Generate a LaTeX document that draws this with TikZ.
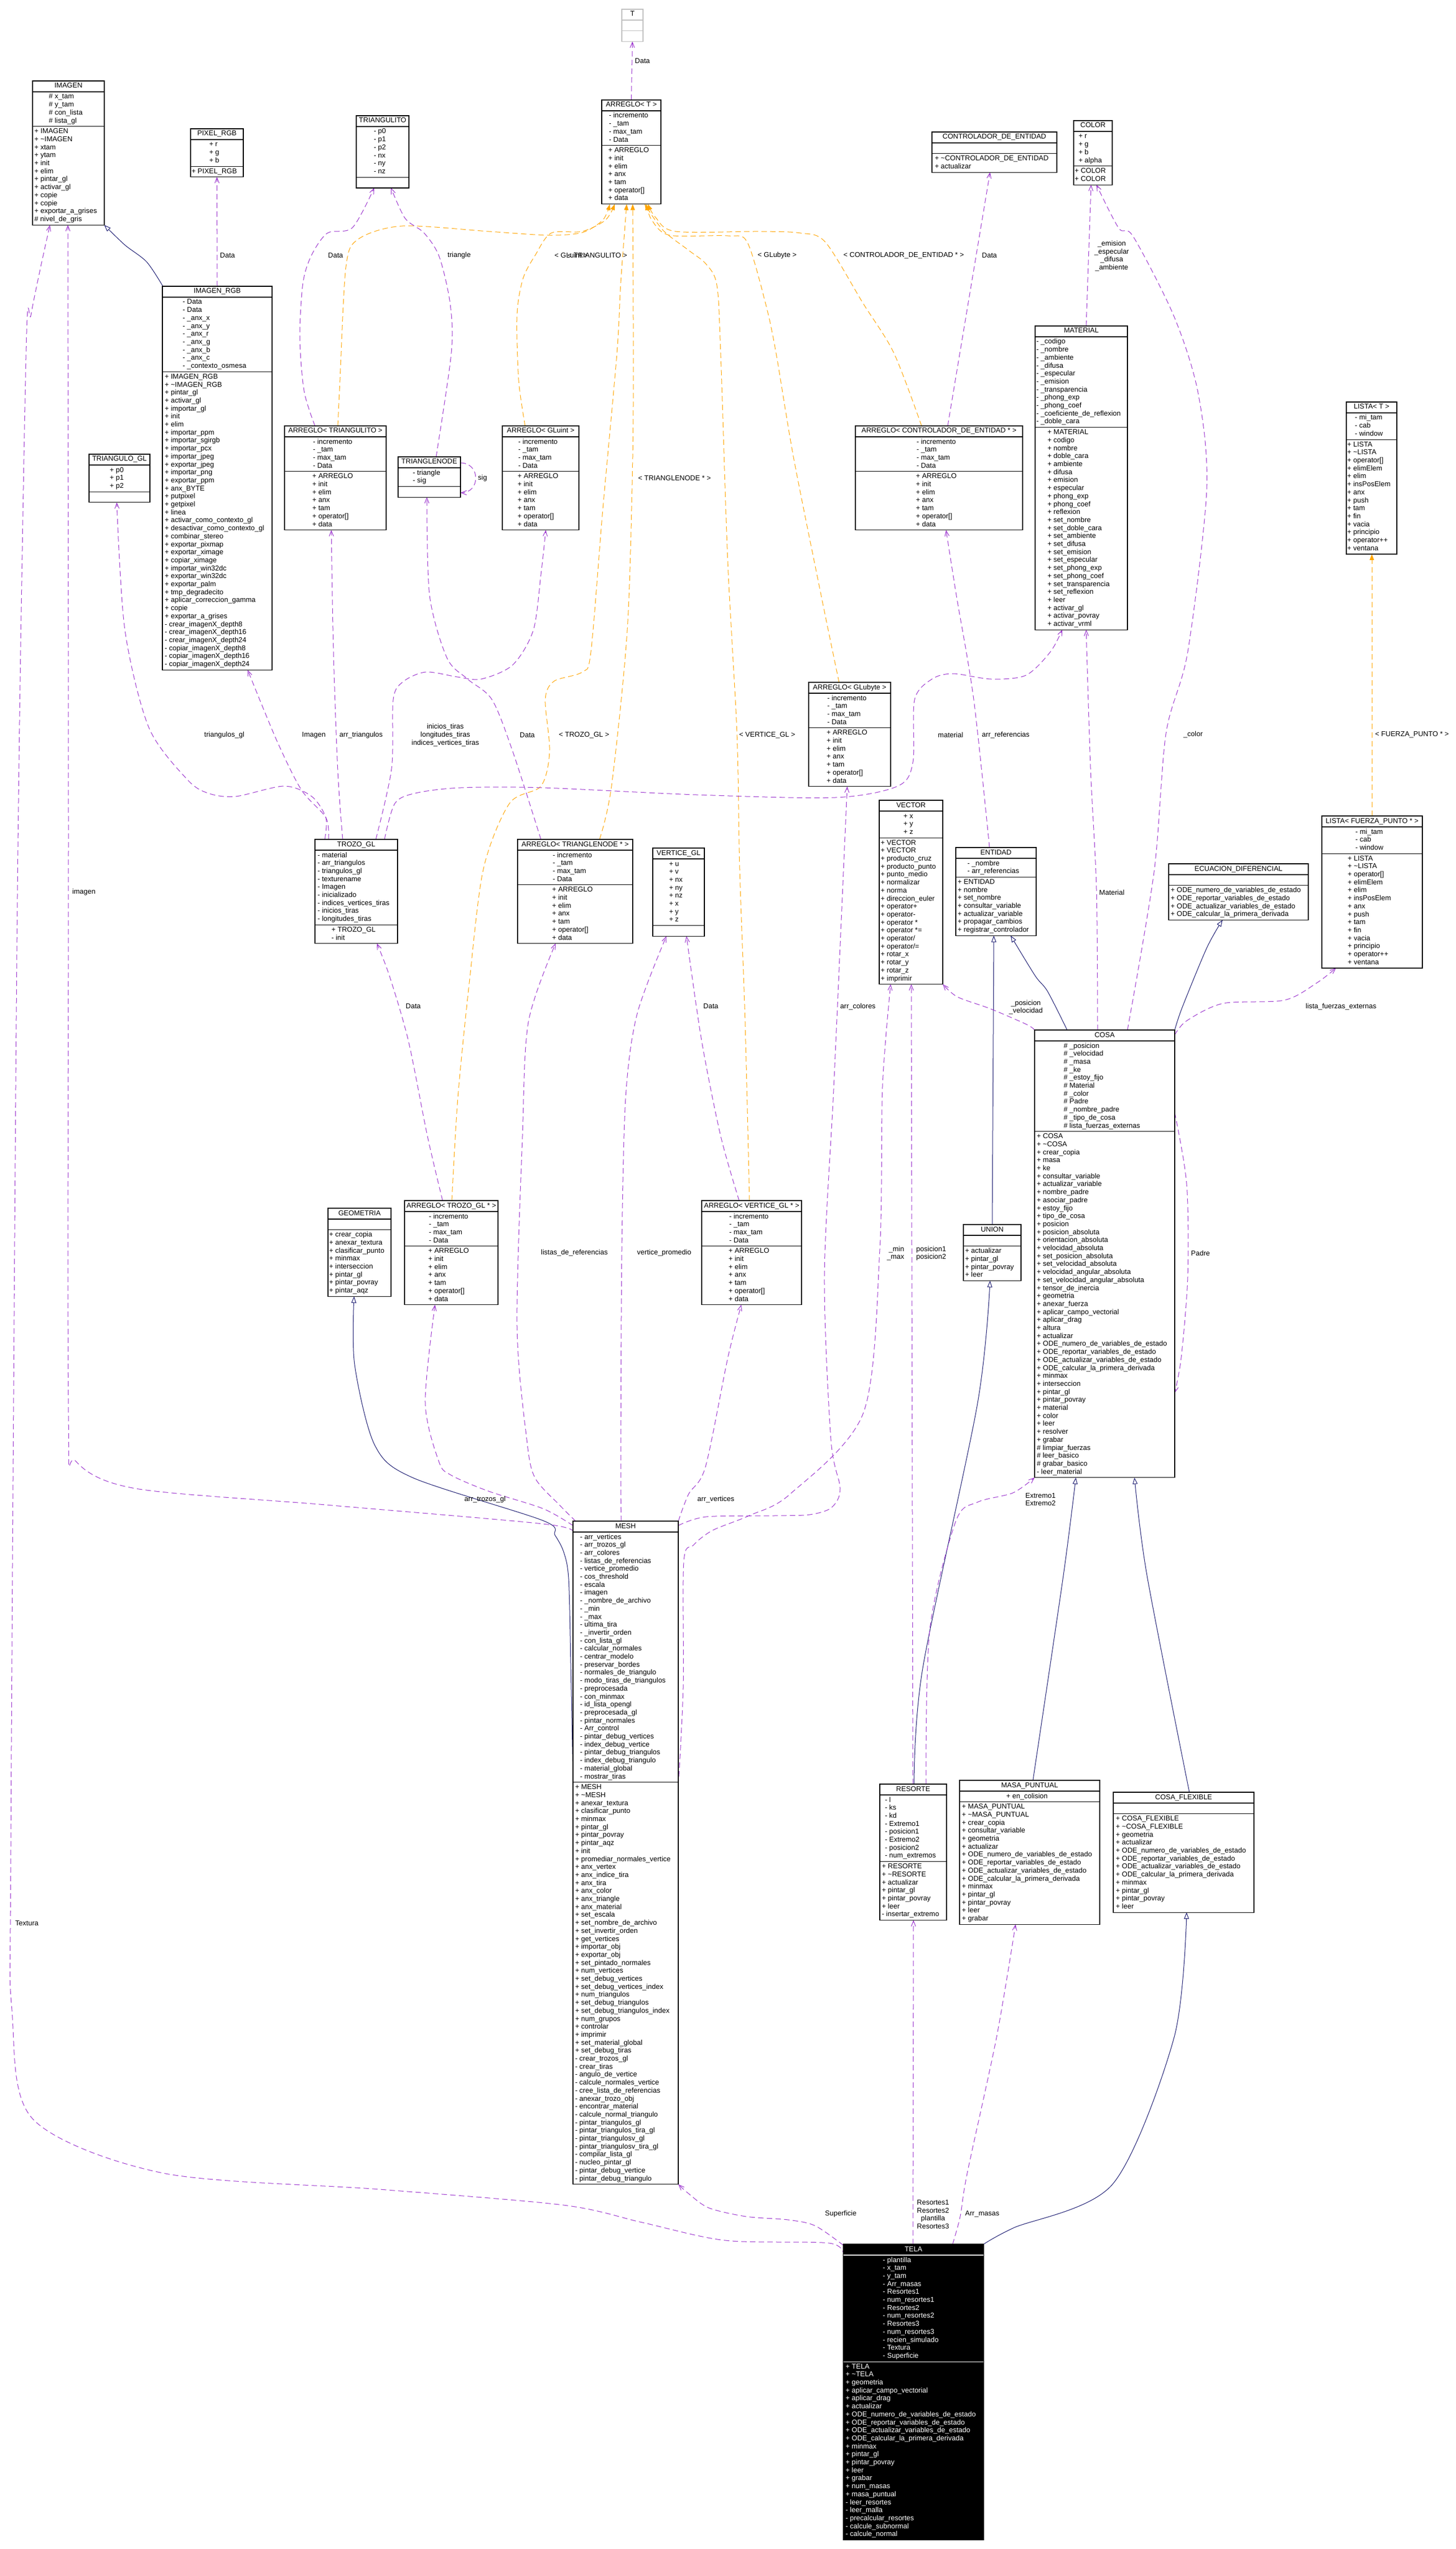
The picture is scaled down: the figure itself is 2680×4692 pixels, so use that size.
\documentclass[tikz,border=0pt]{standalone}
\usepackage{fontspec}
\setmainfont{Liberation Sans}
\usetikzlibrary{arrows.meta, calc}
\definecolor{usecol}{HTML}{9A32CD}
\definecolor{tmplcol}{HTML}{FFA500}
\definecolor{inhcol}{HTML}{191970}
\definecolor{greybox}{HTML}{BFBFBF}
\pgfdeclarelayer{back}
\pgfdeclarelayer{edges}
\pgfsetlayers{back,edges,main}
\catcode`\_=12
\newcommand{\td}{\char"7E\relax}
\newcommand{\rows}[1]{\begin{tabular}{@{}l@{}}#1\end{tabular}}
% repeated member lists
\newcommand{\arrA}{- incremento\\- _tam\\- max_tam\\- Data}
\newcommand{\arrM}{+ ARREGLO\\+ init\\+ elim\\+ anx\\+ tam\\+ operator[]\\+ data}
\newcommand{\listaA}{- mi_tam\\- cab\\- window}
\newcommand{\listaM}{+ LISTA\\+ \td LISTA\\+ operator[]\\+ elimElem\\+ elim\\+ insPosElem\\+ anx\\+ push\\+ tam\\+ fin\\+ vacia\\+ principio\\+ operator++\\+ ventana}
\newcommand{\odeM}{+ ODE_numero_de_variables_de_estado\\+ ODE_reportar_variables_de_estado\\+ ODE_actualizar_variables_de_estado\\+ ODE_calcular_la_primera_derivada}
\tikzset{
  cls/.style={draw=black, line width=1.2pt, inner sep=0pt, outer sep=0pt, fill=white},
  clsline/.style={draw=black, line width=1.2pt},
  clstext/.style={inner xsep=0pt, inner ysep=2.5pt, font={\fontsize{13}{14.7}\selectfont}, text=black},
  lbl/.style={inner sep=0pt, font={\fontsize{13}{14.7}\selectfont}, align=center},
  use/.style={draw=usecol, line width=1pt, dash pattern=on 10pt off 6pt, -{Straight Barb[length=10pt,width=8pt]}},
  tmpl/.style={draw=tmplcol, line width=1pt, dash pattern=on 10pt off 6pt, -{Triangle[length=11pt,width=8pt]}},
  inh/.style={draw=inhcol, line width=1pt, -{Triangle[open,length=12pt,width=9pt,fill=white]}}
}
% name, x, y, width, n attributes, n methods, title, attributes, methods
\newcommand{\umlclass}[9]{%
  \pgfmathsetmacro{\hA}{max(#5,1)*14.7+5}%
  \pgfmathsetmacro{\hM}{max(#6,1)*14.7+5}%
  \pgfmathsetmacro{\hH}{20+\hA+\hM}%
  \pgfmathsetmacro{\yB}{20+\hA}%
  \node[cls, minimum width=#4, minimum height=\hH, anchor=north west] (#1) at (#2,#3) {};
  \draw[clsline] ($(#1.north west)+(0,20)$) -- ($(#1.north east)+(0,20)$);
  \draw[clsline] ($(#1.north west)+(0,\yB)$) -- ($(#1.north east)+(0,\yB)$);
  \node[clstext, anchor=north] (#1-t) at (#1.north) {\rows{#7}};
  \node[clstext, anchor=north] (#1-a) at ($(#1.north)+(-5,20)$) {\rows{#8}};
  \node[clstext, anchor=north] (#1-m) at ($(#1.north)+(-5,\yB)$) {\rows{#9}};
}
\begin{document}
\begin{tikzpicture}[x=1pt, y=-1pt]
    \useasboundingbox (0,0) rectangle (2680,4692);
    \begin{pgfonlayer}{back}
        \fill[white] (0,0) rectangle (2680,4692);
    \end{pgfonlayer}

    % clases
    \begin{scope}[cls/.style={draw=greybox, line width=1.2pt, inner sep=0pt, outer sep=0pt, fill=white}, clsline/.style={draw=greybox, line width=1.2pt}]
        \umlclass{tcls}{1145}{17}{39}{1}{1}{T}{}{}
    \end{scope}
    \umlclass{arrT}{1108}{184}{109}{4}{7}{ARREGLO< T >}{\arrA}{\arrM}
    \umlclass{imagen}{60}{149}{132}{4}{12}{IMAGEN}{\# x_tam\\\# y_tam\\\# con_lista\\\# lista_gl}{+ IMAGEN\\+ \td IMAGEN\\+ xtam\\+ ytam\\+ init\\+ elim\\+ pintar_gl\\+ activar_gl\\+ copie\\+ copie\\+ exportar_a_grises\\\# nivel_de_gris}
    \umlclass{pixel}{351}{237}{97}{3}{1}{PIXEL_RGB}{+ r\\+ g\\+ b}{+ PIXEL_RGB}
    \umlclass{triangulito}{656}{213}{97}{6}{1}{TRIANGULITO}{- p0\\- p1\\- p2\\- nx\\- ny\\- nz}{}
    \umlclass{imagenrgb}{299}{527}{202}{9}{37}{IMAGEN_RGB}{- Data\\- Data\\- _anx_x\\- _anx_y\\- _anx_r\\- _anx_g\\- _anx_b\\- _anx_c\\- _contexto_osmesa}{+ IMAGEN_RGB\\+ \td IMAGEN_RGB\\+ pintar_gl\\+ activar_gl\\+ importar_gl\\+ init\\+ elim\\+ importar_ppm\\+ importar_sgirgb\\+ importar_pcx\\+ importar_jpeg\\+ exportar_jpeg\\+ importar_png\\+ exportar_ppm\\+ anx_BYTE\\+ putpixel\\+ getpixel\\+ linea\\+ activar_como_contexto_gl\\+ desactivar_como_contexto_gl\\+ combinar_stereo\\+ exportar_pixmap\\+ exportar_ximage\\+ copiar_ximage\\+ importar_win32dc\\+ exportar_win32dc\\+ exportar_palm\\+ tmp_degradecito\\+ aplicar_correccion_gamma\\+ copie\\+ exportar_a_grises\\- crear_imagenX_depth8\\- crear_imagenX_depth16\\- crear_imagenX_depth24\\- copiar_imagenX_depth8\\- copiar_imagenX_depth16\\- copiar_imagenX_depth24}
    \umlclass{control}{1716}{243}{230}{1}{2}{CONTROLADOR_DE_ENTIDAD}{}{+ \td CONTROLADOR_DE_ENTIDAD\\+ actualizar}
    \umlclass{color}{1977}{222}{71}{4}{2}{COLOR}{+ r\\+ g\\+ b\\+ alpha}{+ COLOR\\+ COLOR}
    \umlclass{material}{1906}{600}{170}{11}{25}{MATERIAL}{- _codigo\\- _nombre\\- _ambiente\\- _difusa\\- _especular\\- _emision\\- _transparencia\\- _phong_exp\\- _phong_coef\\- _coeficiente_de_reflexion\\- _doble_cara}{+ MATERIAL\\+ codigo\\+ nombre\\+ doble_cara\\+ ambiente\\+ difusa\\+ emision\\+ especular\\+ phong_exp\\+ phong_coef\\+ reflexion\\+ set_nombre\\+ set_doble_cara\\+ set_ambiente\\+ set_difusa\\+ set_emision\\+ set_especular\\+ set_phong_exp\\+ set_phong_coef\\+ set_transparencia\\+ set_reflexion\\+ leer\\+ activar_gl\\+ activar_povray\\+ activar_vrml}
    \umlclass{listaT}{2479}{740}{93}{3}{14}{LISTA< T >}{\listaA}{\listaM}

    \umlclass{trianguloGL}{164}{836}{112}{3}{1}{TRIANGULO_GL}{+ p0\\+ p1\\+ p2}{}
    \umlclass{arrTriangulito}{524}{784}{187}{4}{7}{ARREGLO< TRIANGULITO >}{\arrA}{\arrM}
    \umlclass{trianglenode}{733}{841}{115}{2}{1}{TRIANGLENODE}{- triangle\\- sig}{}
    \umlclass{arrGLuint}{925}{784}{141}{4}{7}{ARREGLO< GLuint >}{\arrA}{\arrM}
    \umlclass{arrControl}{1575}{784}{308}{4}{7}{ARREGLO< CONTROLADOR_DE_ENTIDAD * >}{\arrA}{\arrM}
    \umlclass{arrGLubyte}{1489}{1256}{151}{4}{7}{ARREGLO< GLubyte >}{\arrA}{\arrM}
    \umlclass{vector}{1619}{1473}{117}{3}{18}{VECTOR}{+ x\\+ y\\+ z}{+ VECTOR\\+ VECTOR\\+ producto_cruz\\+ producto_punto\\+ punto_medio\\+ normalizar\\+ norma\\+ direccion_euler\\+ operator+\\+ operator-\\+ operator *\\+ operator *=\\+ operator/\\+ operator/=\\+ rotar_x\\+ rotar_y\\+ rotar_z\\+ imprimir}
    \umlclass{listaFuerza}{2434}{1502}{185}{3}{14}{LISTA< FUERZA_PUNTO * >}{\listaA}{\listaM}
    \umlclass{trozoGL}{580}{1545}{152}{9}{2}{TROZO_GL}{- material\\- arr_triangulos\\- triangulos_gl\\- texturename\\- Imagen\\- inicializado\\- indices_vertices_tiras\\- inicios_tiras\\- longitudes_tiras}{+ TROZO_GL\\- init}
    \umlclass{arrTrianglenode}{953}{1545}{212}{4}{7}{ARREGLO< TRIANGLENODE * >}{\arrA}{\arrM}
    \umlclass{verticeGL}{1202}{1561}{95}{8}{1}{VERTICE_GL}{+ u\\+ v\\+ nx\\+ ny\\+ nz\\+ x\\+ y\\+ z}{}
    \umlclass{entidad}{1760}{1560}{148}{2}{7}{ENTIDAD}{- _nombre\\- arr_referencias}{+ ENTIDAD\\+ nombre\\+ set_nombre\\+ consultar_variable\\+ actualizar_variable\\+ propagar_cambios\\+ registrar_controlador}
    \umlclass{ecuacion}{2152}{1590}{257}{1}{4}{ECUACION_DIFERENCIAL}{}{\odeM}
    \umlclass{cosa}{1905}{1896}{258}{11}{43}{COSA}{\# _posicion\\\# _velocidad\\\# _masa\\\# _ke\\\# _estoy_fijo\\\# Material\\\# _color\\\# Padre\\\# _nombre_padre\\\# _tipo_de_cosa\\\# lista_fuerzas_externas}{+ COSA\\+ \td COSA\\+ crear_copia\\+ masa\\+ ke\\+ consultar_variable\\+ actualizar_variable\\+ nombre_padre\\+ asociar_padre\\+ estoy_fijo\\+ tipo_de_cosa\\+ posicion\\+ posicion_absoluta\\+ orientacion_absoluta\\+ velocidad_absoluta\\+ set_posicion_absoluta\\+ set_velocidad_absoluta\\+ velocidad_angular_absoluta\\+ set_velocidad_angular_absoluta\\+ tensor_de_inercia\\+ geometria\\+ anexar_fuerza\\+ aplicar_campo_vectorial\\+ aplicar_drag\\+ altura\\+ actualizar\\\odeM\\+ minmax\\+ interseccion\\+ pintar_gl\\+ pintar_povray\\+ material\\+ color\\+ leer\\+ resolver\\+ grabar\\\# limpiar_fuerzas\\\# leer_basico\\\# grabar_basico\\- leer_material}
    \umlclass{geometria}{604}{2224}{116}{1}{8}{GEOMETRIA}{}{+ crear_copia\\+ anexar_textura\\+ clasificar_punto\\+ minmax\\+ interseccion\\+ pintar_gl\\+ pintar_povray\\+ pintar_aqz}
    \umlclass{arrTrozo}{745}{2210}{172}{4}{7}{ARREGLO< TROZO_GL * >}{\arrA}{\arrM}
    \umlclass{arrVertice}{1292}{2210}{184}{4}{7}{ARREGLO< VERTICE_GL * >}{\arrA}{\arrM}
    \umlclass{union}{1774}{2254}{106}{1}{4}{UNION}{}{+ actualizar\\+ pintar_gl\\+ pintar_povray\\+ leer}
    \umlclass{mesh}{1055}{2800}{194}{31}{50}{MESH}{- arr_vertices\\- arr_trozos_gl\\- arr_colores\\- listas_de_referencias\\- vertice_promedio\\- cos_threshold\\- escala\\- imagen\\- _nombre_de_archivo\\- _min\\- _max\\- ultima_tira\\- _invertir_orden\\- con_lista_gl\\- calcular_normales\\- centrar_modelo\\- preservar_bordes\\- normales_de_triangulo\\- modo_tiras_de_triangulos\\- preprocesada\\- con_minmax\\- id_lista_opengl\\- preprocesada_gl\\- pintar_normales\\- Arr_control\\- pintar_debug_vertices\\- index_debug_vertice\\- pintar_debug_triangulos\\- index_debug_triangulo\\- material_global\\- mostrar_tiras}{+ MESH\\+ \td MESH\\+ anexar_textura\\+ clasificar_punto\\+ minmax\\+ pintar_gl\\+ pintar_povray\\+ pintar_aqz\\+ init\\+ promediar_normales_vertice\\+ anx_vertex\\+ anx_indice_tira\\+ anx_tira\\+ anx_color\\+ anx_triangle\\+ anx_material\\+ set_escala\\+ set_nombre_de_archivo\\+ set_invertir_orden\\+ get_vertices\\+ importar_obj\\+ exportar_obj\\+ set_pintado_normales\\+ num_vertices\\+ set_debug_vertices\\+ set_debug_vertices_index\\+ num_triangulos\\+ set_debug_triangulos\\+ set_debug_triangulos_index\\+ num_grupos\\+ controlar\\+ imprimir\\+ set_material_global\\+ set_debug_tiras\\- crear_trozos_gl\\- crear_tiras\\- angulo_de_vertice\\- calcule_normales_vertice\\- cree_lista_de_referencias\\- anexar_trozo_obj\\- encontrar_material\\- calcule_normal_triangulo\\- pintar_triangulos_gl\\- pintar_triangulos_tira_gl\\- pintar_triangulosv_gl\\- pintar_triangulosv_tira_gl\\- compilar_lista_gl\\- nucleo_pintar_gl\\- pintar_debug_vertice\\- pintar_debug_triangulo}
    \umlclass{resorte}{1620}{3284}{123}{8}{7}{RESORTE}{- l\\- ks\\- kd\\- Extremo1\\- posicion1\\- Extremo2\\- posicion2\\- num_extremos}{+ RESORTE\\+ \td RESORTE\\+ actualizar\\+ pintar_gl\\+ pintar_povray\\+ leer\\- insertar_extremo}
    \umlclass{masa}{1767}{3277}{258}{1}{15}{MASA_PUNTUAL}{+ en_colision}{+ MASA_PUNTUAL\\+ \td MASA_PUNTUAL\\+ crear_copia\\+ consultar_variable\\+ geometria\\+ actualizar\\\odeM\\+ minmax\\+ pintar_gl\\+ pintar_povray\\+ leer\\+ grabar}
    \umlclass{cosaFlex}{2050}{3299}{259}{1}{12}{COSA_FLEXIBLE}{}{+ COSA_FLEXIBLE\\+ \td COSA_FLEXIBLE\\+ geometria\\+ actualizar\\\odeM\\+ minmax\\+ pintar_gl\\+ pintar_povray\\+ leer}
    \begin{scope}[cls/.style={draw=black, line width=1.2pt, inner sep=0pt, outer sep=0pt, fill=black}, clsline/.style={draw=white, line width=1.2pt}, clstext/.append style={text=white}]
        \umlclass{tela}{1553}{4131}{258}{13}{22}{TELA}{- plantilla\\- x_tam\\- y_tam\\- Arr_masas\\- Resortes1\\- num_resortes1\\- Resortes2\\- num_resortes2\\- Resortes3\\- num_resortes3\\- recien_simulado\\- Textura\\- Superficie}{+ TELA\\+ \td TELA\\+ geometria\\+ aplicar_campo_vectorial\\+ aplicar_drag\\+ actualizar\\\odeM\\+ minmax\\+ pintar_gl\\+ pintar_povray\\+ leer\\+ grabar\\+ num_masas\\+ masa_puntual\\- leer_resortes\\- leer_malla\\- precalcular_resortes\\- calcule_subnormal\\- calcule_normal}
    \end{scope}

    \begin{pgfonlayer}{edges}
    % instancias de plantilla
    \draw[tmpl] plot[smooth] coordinates {([xshift=98pt]arrTriangulito.north west) (626,700) (637,491) (660,440) (741,416) (900,426) (1009,433) (1072,428) (1110,405) ([xshift=15pt]arrT.south west)};
    \draw[tmpl] plot[smooth] coordinates {([xshift=42pt]arrGLuint.north west) (955,700) (952,580) (963,513) (986,469) (1015,429) (1072,426) (1115,405) ([xshift=24pt]arrT.south west)};
    \draw[tmpl] plot[smooth] coordinates {([xshift=151pt]arrTrianglenode.north west) (1126,1447) (1155,1160) (1165,841) (1166,600) ([xshift=57pt]arrT.south west)};
    \draw[tmpl] plot[smooth] coordinates {([xshift=87pt]arrTrozo.north west) (843,2021) (864,1810) (890,1600) (938,1479) (996,1447) (1012,1383) (1004,1288) (1020,1254) (1072,1237) (1088,1200) (1110,937) (1136,650) (1143,520) ([xshift=46pt]arrT.south west)};
    \draw[tmpl] plot[smooth] coordinates {([xshift=88pt]arrVertice.north west) (1372,1881) (1362,1600) (1357,1350) (1340,1033) (1327,650) (1320,525) (1300,486) (1267,460) (1221,424) ([xshift=79pt]arrT.south west)};
    \draw[tmpl] plot[smooth] coordinates {([xshift=56pt]arrGLubyte.north west) (1512,1096) (1461,841) (1429,650) (1410,560) (1376,446) (1340,434) (1233,433) (1200,405) ([xshift=82pt]arrT.south west)};
    \draw[tmpl] plot[smooth] coordinates {([xshift=122pt]arrControl.north west) (1646,650) (1589,558) (1520,446) (1474,429) (1399,426) (1244,426) (1207,400) ([xshift=85pt]arrT.south west)};
    \draw[tmpl] ([xshift=92pt]listaFuerza.north west) -- ([xshift=47pt]listaT.south west);

    % herencia
    \draw[inh] plot[smooth] coordinates {([xshift=1pt]imagenrgb.north west) (270,482) (230,451) (imagen.south east)};
    \draw[inh] ([xshift=53pt]union.north west) -- ([xshift=70pt]entidad.south west);
    \draw[inh] plot[smooth] coordinates {([xshift=60pt]cosa.north west) (1929,1825) (1906,1796) ([xshift=101pt]entidad.south west)};
    \draw[inh] plot[smooth] coordinates {(cosa.north east) (2177,1854) (2222,1745) ([xshift=99pt]ecuacion.south west)};
    \draw[inh] plot[smooth] coordinates {([xshift=63pt]resorte.north west) (1699,3071) (1800,2583) ([xshift=49pt]union.south west)};
    \draw[inh] plot[smooth] coordinates {([xshift=135pt]masa.north west) (1958,2900) ([xshift=76pt]cosa.south west)};
    \draw[inh] plot[smooth] coordinates {([xshift=140pt]cosaFlex.north west) (2112,2900) ([xshift=184pt]cosa.south west)};
    \draw[inh] plot[smooth] coordinates {(tela.north east) (1866,4101) (2049,4020) (2162,3750) ([xshift=135pt]cosaFlex.south west)};
    \draw[inh] plot[smooth] coordinates {([yshift=-470pt]mesh.north west) (1051,3062) (1047,2906) (1038,2857) (1022,2826) (1000,2799) (760,2720) (690,2660) (653,2512) ([xshift=48pt]geometria.south west)};

    % uso
    \draw[use] (arrT.north) -- (tcls.south);
    \draw[use] (imagenrgb.north) -- (pixel.south);
    \draw[use] plot[smooth] coordinates {([xshift=56pt]arrTriangulito.north west) (560,720) (552,620) (558,520) (574,469) (603,429) (649,419) ([xshift=33pt]triangulito.south west)};
    \draw[use] plot[smooth] coordinates {([xshift=70pt]trianglenode.north west) (831,650) (829,560) (809,473) (781,429) (746,402) ([xshift=64pt]triangulito.south west)};
    \draw[use] ([yshift=-11pt]trianglenode.north east) .. controls (885,852) and (885,907) .. ([yshift=-66pt]trianglenode.north east);
    \draw[use] plot[smooth] coordinates {([xshift=51pt]trozoGL.north west) (622,1420) (614,1200) ([xshift=86pt]arrTriangulito.south west)};
    \draw[use] plot[smooth] coordinates {([xshift=18pt]trozoGL.north west) (600,1505) (574,1466) (523,1447) (434,1466) (383,1460) (344,1434) (274,1339) (230,1160) ([xshift=51pt]trianguloGL.south west)};
    \draw[use] plot[smooth] coordinates {([xshift=25pt]trozoGL.north west) (600,1505) (555,1454) (510,1364) ([xshift=157pt]imagenrgb.south west)};
    \draw[use] plot[smooth] coordinates {([xshift=112pt]trozoGL.north west) (721,1415) (724,1288) (742,1255) (784,1237) (842,1246) (886,1250) (944,1224) (982,1160) (996,1058) ([xshift=80pt]arrGLuint.south west)};
    \draw[use] plot[smooth] coordinates {([xshift=43pt]arrTrianglenode.north west) (944,1383) (906,1288) (861,1250) (823,1211) (791,1096) ([xshift=53pt]trianglenode.south west)};
    \draw[use] plot[smooth] coordinates {([xshift=70pt]arrTrozo.north west) (787,2091) (752,1916) (717,1796) ([xshift=114pt]trozoGL.south west)};
    \draw[use] plot[smooth] coordinates {([xshift=5pt]mesh.north west) (1030,2770) (985,2720) (970,2650) (952,2442) (962,2091) (973,1881) ([xshift=70pt]arrTrianglenode.south west)};
    \draw[use] plot[smooth] coordinates {([xshift=89pt]mesh.north west) (1143,2700) (1145,2301) (1152,2021) (1173,1867) ([xshift=25pt]verticeGL.south west)};
    \draw[use] plot[smooth] coordinates {([xshift=69pt]arrVertice.north west) (1327,2091) (1292,1916) ([xshift=62pt]verticeGL.south west)};
    \draw[use] plot[smooth] coordinates {([yshift=-8pt]mesh.north west) (1000,2777) (900,2745) (830,2715) (808,2690) (783,2582) ([xshift=56pt]arrTrozo.south west)};
    \draw[use] plot[smooth] coordinates {([yshift=-20pt]mesh.north west) (1000,2805) (600,2770) (250,2740) (140,2690) (126,2600) (126,1500) ([xshift=65pt]imagen.south west)};
    \draw[use] plot[smooth] coordinates {(mesh.north east) (1268,2750) (1299,2700) (1340,2500) ([xshift=73pt]arrVertice.south west)};
    \draw[use] plot[smooth] coordinates {([yshift=-8pt]mesh.north east) (1300,2792) (1424,2790) (1491,2788) (1531,2775) (1547,2740) (1530,2650) (1518,2350) (1534,2026) (1542,1853) (1551,1650) ([xshift=71pt]arrGLubyte.south west)};
    \draw[use] plot[smooth] coordinates {([yshift=-486pt]mesh.north east) (1258,3107) (1259,2875) (1277,2844) (1312,2817) (1379,2790) (1455,2750) (1590,2600) (1620,2300) (1625,2000) ([xshift=21pt]vector.south west)};
    \draw[use] plot[smooth] coordinates {(cosa.north west) (1891,1886) (1824,1857) (1763,1835) (vector.south east)};
    \draw[use] ([xshift=61pt]resorte.north west) -- ([xshift=59pt]vector.south west);
    \draw[use] plot[smooth] coordinates {([xshift=116pt]cosa.north west) (2019,1637) (2008,1414) ([xshift=94pt]material.south west)};
    \draw[use] plot[smooth] coordinates {([xshift=171pt]cosa.north west) (2125,1605) (2147,1350) (2187,1200) (2222,900) (2206,723) (2162,583) (2087,436) (2060,420) ([xshift=42pt]color.south west)};
    \draw[use] ([xshift=94pt]material.north west) -- ([xshift=32pt]color.south west);
    \draw[use] plot[smooth] coordinates {([yshift=-9pt]cosa.north east) (2185,1879) (2252,1847) (2365,1841) (2425,1809) ([xshift=26pt]listaFuerza.south west)};
    \draw[use] plot[smooth] coordinates {([xshift=62pt]entidad.north west) (1793,1288) (1761,1096) ([xshift=167pt]arrControl.south west)};
    \draw[use] ([xshift=170pt]arrControl.north west) -- ([xshift=107pt]control.south west);
    \draw[use] plot[smooth] coordinates {([xshift=128pt]trozoGL.north west) (727,1479) (765,1460) (848,1450) (1000,1450) (1283,1463) (1538,1468) (1653,1447) (1681,1403) (1684,1288) (1716,1250) (1755,1240) (1825,1250) (1889,1243) (1934,1200) ([xshift=50pt]material.south west)};
    \draw[use] plot[smooth] coordinates {([yshift=-2pt]tela.north west) (1501,4097) (1451,4086) (1374,4080) (1305,4064) (1267,4037) (mesh.south east)};
    \draw[use] plot[smooth] coordinates {([yshift=-22pt]tela.north west) (1527,4129) (1336,4124) (1183,4091) (1038,4059) (700,4030) (300,4000) (60,3900) (22,3700) (20,3400) (32,1650) (48,650) (57,580) (75,491) ([xshift=32pt]imagen.south west)};
    \draw[use] plot[smooth] coordinates {([xshift=85pt]resorte.north west) (1712,3000) (1760,2800) (1800,2765) (1865,2748) (cosa.south west)};
    \draw[use] ([xshift=128pt]tela.north west) -- ([xshift=62pt]resorte.south west);
    \draw[use] plot[smooth] coordinates {([xshift=201pt]tela.north west) (1768,4080) (1781,4000) (1835,3750) ([xshift=103pt]masa.south west)};
    \draw[use] plot[smooth] coordinates {([yshift=-152pt]cosa.north east) (2185,2179) (2187,2350) (2175,2499) ([yshift=-668pt]cosa.north east)};
    \end{pgfonlayer}

    % etiquetas
    \node[lbl, anchor=west] (lData1) at (1169,112) {Data};
    \node[lbl, anchor=west] (lData2) at (405,470) {Data};
    \node[lbl, anchor=west] (lData3) at (604,470) {Data};
    \node[lbl, anchor=west] (lTriangle) at (824,470) {triangle};
    \node[lbl, anchor=west] (lGLuint) at (1021,470) {< GLuint >};
    \node[lbl, anchor=west] (lTriangulito) at (1045,470) {< TRIANGULITO >};
    \node[lbl, anchor=west] (lGLubyte) at (1395,470) {< GLubyte >};
    \node[lbl, anchor=west] (lControl) at (1553,470) {< CONTROLADOR_DE_ENTIDAD * >};
    \node[lbl, anchor=west] (lData4) at (1808,470) {Data};
    \node[lbl] (lEmision) at (2047,471) {_emision\\_especular\\_difusa\\_ambiente};
    \node[lbl, anchor=west] (lSig) at (880,880) {sig};
    \node[lbl, anchor=west] (lTNode) at (1175,880) {< TRIANGLENODE * >};
    \node[lbl, anchor=west] (lTriGL) at (376,1353) {triangulos_gl};
    \node[lbl, anchor=west] (lImagen) at (556,1353) {Imagen};
    \node[lbl, anchor=west] (lArrTri) at (625,1353) {arr_triangulos};
    \node[lbl] (lTiras) at (820,1353) {inicios_tiras\\longitudes_tiras\\indices_vertices_tiras};
    \node[lbl, anchor=west] (lData5) at (957,1353) {Data};
    \node[lbl, anchor=west] (lTrozo) at (1029,1353) {< TROZO_GL >};
    \node[lbl, anchor=west] (lVertice) at (1361,1353) {< VERTICE_GL >};
    \node[lbl, anchor=west] (lMaterial) at (1727,1353) {material};
    \node[lbl, anchor=west] (lArrRef) at (1808,1353) {arr_referencias};
    \node[lbl, anchor=west] (lColor) at (2179,1352) {_color};
    \node[lbl, anchor=west] (lFuerza) at (2532,1352) {< FUERZA_PUNTO * >};
    \node[lbl, anchor=west] (limagen) at (133,1642) {imagen};
    \node[lbl, anchor=west] (lMaterial2) at (2024,1643) {Material};
    \node[lbl, anchor=west] (lData6) at (747,1852) {Data};
    \node[lbl, anchor=west] (lData7) at (1295,1852) {Data};
    \node[lbl, anchor=west] (lArrCol) at (1547,1853) {arr_colores};
    \node[lbl] (lPosVel) at (1889,1854) {_posicion\\_velocidad};
    \node[lbl, anchor=west] (lFuerzas) at (2404,1853) {lista_fuerzas_externas};
    \node[lbl, anchor=west] (lListas) at (996,2306) {listas_de_referencias};
    \node[lbl, anchor=west] (lPromedio) at (1173,2306) {vertice_promedio};
    \node[lbl, anchor=east, align=right] (lMinMax) at (1665,2307) {_min\\_max};
    \node[lbl, anchor=west, align=left] (lPosicion) at (1687,2307) {posicion1\\posicion2};
    \node[lbl, anchor=west] (lPadre) at (2193,2307) {Padre};
    \node[lbl, anchor=west] (lArrTrozos) at (855,2760) {arr_trozos_gl};
    \node[lbl, anchor=west] (lArrVert) at (1284,2760) {arr_vertices};
    \node[lbl] (lExtremo) at (1916,2760) {Extremo1\\Extremo2};
    \node[lbl, anchor=west] (lTextura) at (28,3540) {Textura};
    \node[lbl, anchor=west] (lSuperficie) at (1519,4075) {Superficie};
    \node[lbl] (lResortes) at (1718,4076) {Resortes1\\Resortes2\\plantilla\\Resortes3};
    \node[lbl, anchor=west] (lArrMasas) at (1777,4075) {Arr_masas};
\end{tikzpicture}
\end{document}
